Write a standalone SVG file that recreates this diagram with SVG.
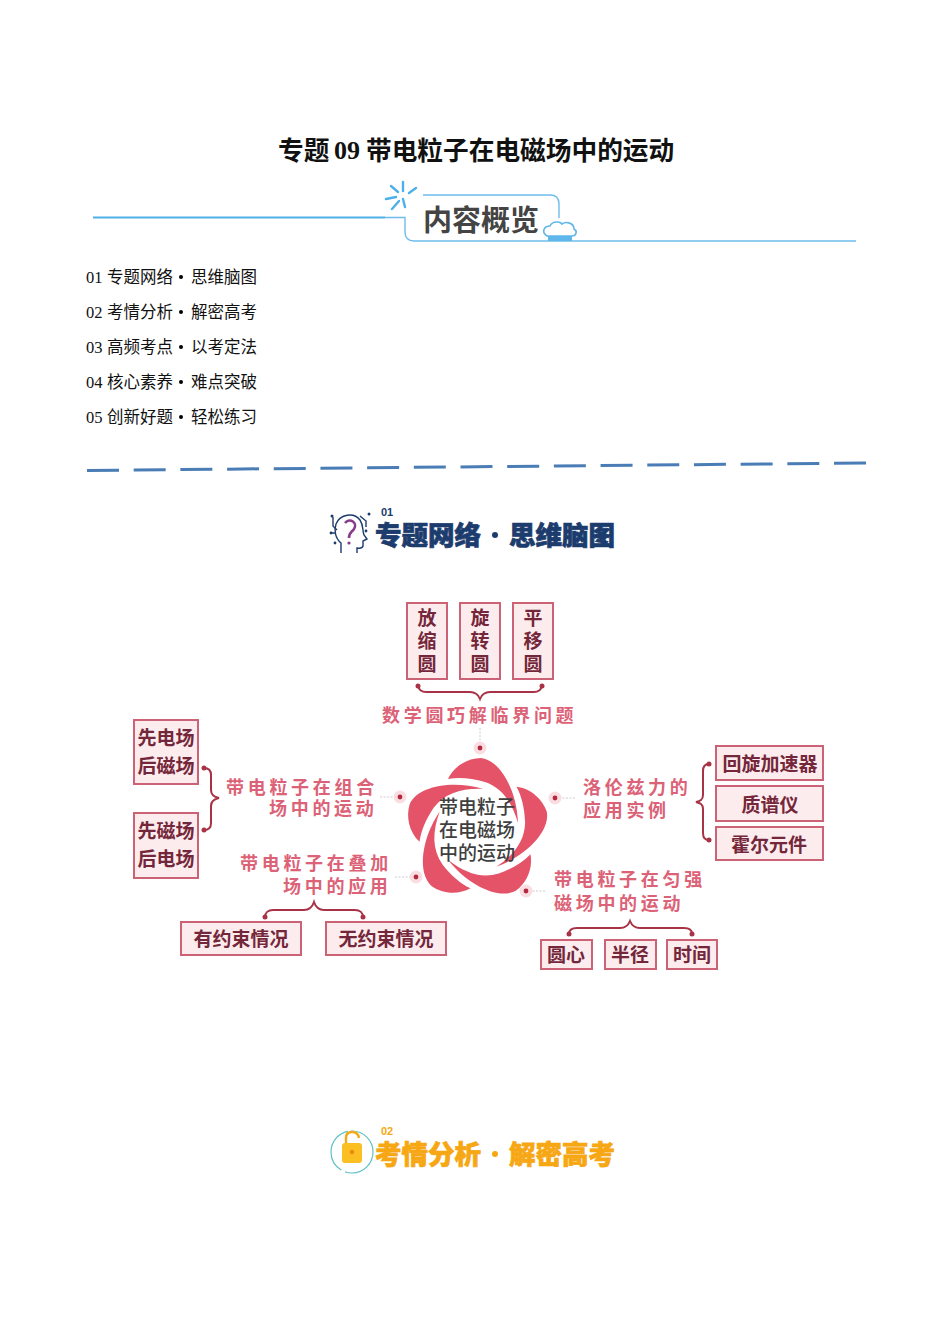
<svg xmlns="http://www.w3.org/2000/svg" width="950" height="1344" viewBox="0 0 950 1344">
<defs>
<style>
text{font-family:"Liberation Serif","Noto Sans CJK SC",serif;dominant-baseline:central}
.cjk{font-family:"Noto Sans CJK SC",sans-serif}
.toc{font-size:16.5px;fill:#111}
.title{font-size:25.7px;font-weight:700;fill:#111}
.box{fill:#fdecee;stroke:#cc6275;stroke-width:2}
.bt{font-family:"Noto Sans CJK SC",sans-serif;font-size:19px;font-weight:700;fill:#74273a;text-anchor:middle}
.lab{font-family:"Noto Sans CJK SC",sans-serif;font-size:18px;font-weight:700;fill:#dc6277;letter-spacing:3.7px}
.brace{fill:none;stroke:#a83347;stroke-width:2}
.bd{fill:#a83347}
.halo{fill:#f9dde1}
.dot{fill:#b32a40}
.dash{stroke:#ccc;stroke-width:1;stroke-dasharray:2 1.5;fill:none}
.sky{fill:none;stroke:#6dbdec;stroke-width:1.4}
.petal{fill:#e55368}
.head1{font-family:"Noto Sans CJK SC",sans-serif;font-size:26.5px;font-weight:900;fill:#1c3c6e;stroke:#1c3c6e;stroke-width:.7}
.head2{font-family:"Noto Sans CJK SC",sans-serif;font-size:26.5px;font-weight:900;fill:#f6a713;stroke:#f6a713;stroke-width:.7}
</style>
<path id="p" class="petal" d="M448,779C454,766 468,758 481,758C500,760 517,790 518,823C512,802 502,788 485,782C471,778 459,777 448,779Z"/>
</defs>
<rect width="950" height="1344" fill="#fff"/>

<g id="title">
<text class="title cjk" x="278" y="148">专题</text>
<text class="title" x="334" y="150" style="font-size:26px">09</text>
<text class="title cjk" x="366" y="148">带电粒子在电磁场中的运动</text>
</g>

<g id="banner">
<path d="M93,217.5H385" fill="none" stroke="#4db0e8" stroke-width="2.2"/>
<path class="sky" d="M385,217.5H405V232Q405,241 414,241H856"/>
<path class="sky" d="M423,195H550Q559,195 559,204V218"/>
<g stroke="#4db0e8" stroke-width="2.4" stroke-linecap="round">
<path d="M391,186L398,192M403,182V191M416,188L409,193M386,199L396,197M392,209L399,201M405,207L403,199"/>
</g>
<text class="cjk" x="423" y="218" font-size="29" font-weight="700" fill="#444">内容概览</text>
<path d="M547,236C541,232 544,226 550,226C552,221 560,221 562,224C566,221 574,223 574,229C578,231 576,236 572,236Z" fill="#fff" stroke="#5fb6ea" stroke-width="1.6"/>
<path d="M548,236H572V241H548Z" fill="#5fb6ea"/>
</g>

<g id="toc">
<text class="toc" x="86" y="277">01</text><text class="toc cjk" x="107" y="276">专题网络</text><circle cx="181" cy="277" r="2"/><text class="toc cjk" x="191" y="276">思维脑图</text>
<text class="toc" x="86" y="312">02</text><text class="toc cjk" x="107" y="311">考情分析</text><circle cx="181" cy="312" r="2"/><text class="toc cjk" x="191" y="311">解密高考</text>
<text class="toc" x="86" y="347">03</text><text class="toc cjk" x="107" y="346">高频考点</text><circle cx="181" cy="347" r="2"/><text class="toc cjk" x="191" y="346">以考定法</text>
<text class="toc" x="86" y="382">04</text><text class="toc cjk" x="107" y="381">核心素养</text><circle cx="181" cy="382" r="2"/><text class="toc cjk" x="191" y="381">难点突破</text>
<text class="toc" x="86" y="417">05</text><text class="toc cjk" x="107" y="416">创新好题</text><circle cx="181" cy="417" r="2"/><text class="toc cjk" x="191" y="416">轻松练习</text>
</g>

<path id="divider" d="M87,470.5L866,463" fill="none" stroke="#4a7db5" stroke-width="3" stroke-dasharray="32 14.69"/>

<g id="section1">
<g fill="none" stroke="#1c3c6e" stroke-width="1.4">
<path d="M341,553V543C335,538 334,530 336,524C340,514 354,512 360,520C364,526 362,530 364,535L367,539L363,541V546Q362,549 357,548V553"/>
<path d="M345,523C350,517 358,523 354,529C352,532 349,532 349,538" stroke="#8a3c8c" stroke-width="2.6"/>
<path d="M333,517V526L337,530M360,516L366,521V527M331,533H335"/>
</g>
<circle cx="349" cy="543" r="1.6" fill="#8a3c8c"/>
<g fill="#1c3c6e"><circle cx="332" cy="516" r="1.5"/><circle cx="369" cy="514" r="1.5"/><circle cx="366" cy="531" r="1.4"/><circle cx="331" cy="533" r="1.4"/><circle cx="335" cy="543" r="1.4"/></g>
<text x="381" y="512" font-size="11" font-weight="700" fill="#1c3c6e" style="font-family:'Liberation Sans',sans-serif">01</text>
<text class="head1" x="375" y="533">专题网络</text>
<circle cx="495" cy="535" r="3" fill="#1c3c6e"/>
<text class="head1" x="509" y="533">思维脑图</text>
</g>

<g id="connectors">
<path class="dash" d="M480,728V742M380,797H394M395,877H410M575,798H561M545,891H532"/>
<path class="brace" d="M418,686C419,690 421,692 426,692H470C475,692 478,694 480,699C482,694 485,692 490,692H534C539,692 541,690 542,686"/>
<path class="brace" d="M204,768C208,768 211,770 211,775V790C211,795 214,797 219,798C214,799 211,801 211,806V823C211,828 208,830 204,830"/>
<path class="brace" d="M709,764C705,764 703,766 703,771V795C703,800 700,801 696,802C700,803 703,804 703,809V833C703,838 705,840 709,840"/>
<path class="brace" d="M265,917C265,913 268,910 273,910H304C309,910 312,908 314,902C316,908 319,910 324,910H355C360,910 363,913 363,917"/>
<path class="brace" d="M569,934C569,930 572,928 577,928H620C625,928 628,926 630,921C632,926 635,928 640,928H684C689,928 692,930 692,934"/>
<g class="bd"><circle cx="418" cy="686" r="2.5"/><circle cx="542" cy="686" r="2.5"/><circle cx="204" cy="768" r="2.5"/><circle cx="204" cy="830" r="2.5"/><circle cx="709" cy="764" r="2.5"/><circle cx="709" cy="840" r="2.5"/><circle cx="265" cy="917" r="2.5"/><circle cx="363" cy="917" r="2.5"/><circle cx="569" cy="934" r="2.5"/><circle cx="692" cy="934" r="2.5"/></g>
</g>

<g id="hub">
<use href="#p"/>
<use href="#p" transform="rotate(72 477 830)"/>
<use href="#p" transform="rotate(144 477 830)"/>
<use href="#p" transform="rotate(216 477 830)"/>
<use href="#p" transform="rotate(288 477 830)"/>
<text class="cjk" font-size="19" fill="#3f3f3f" font-weight="500" text-anchor="middle"><tspan x="477" y="805">带电粒子</tspan><tspan x="477" y="828">在电磁场</tspan><tspan x="477" y="851">中的运动</tspan></text>
</g>

<g id="pins">
<circle class="halo" cx="480" cy="748" r="6.5"/><circle class="dot" cx="480" cy="748" r="2.4"/>
<circle class="halo" cx="400" cy="797" r="6.5"/><circle class="dot" cx="400" cy="797" r="2.4"/>
<circle class="halo" cx="416" cy="877" r="6.5"/><circle class="dot" cx="416" cy="877" r="2.4"/>
<circle class="halo" cx="555" cy="798" r="6.5"/><circle class="dot" cx="555" cy="798" r="2.4"/>
<circle class="halo" cx="526" cy="891" r="6.5"/><circle class="dot" cx="526" cy="891" r="2.4"/>
</g>

<g id="labels">
<text class="lab" x="382" y="714">数学圆巧解临界问题</text>
<text class="lab"><tspan x="226" y="786">带电粒子在组合</tspan><tspan x="269" y="807">场中的运动</tspan></text>
<text class="lab"><tspan x="240" y="862">带电粒子在叠加</tspan><tspan x="283" y="885">场中的应用</tspan></text>
<text class="lab"><tspan x="583" y="786">洛伦兹力的</tspan><tspan x="583" y="809">应用实例</tspan></text>
<text class="lab"><tspan x="554" y="878">带电粒子在匀强</tspan><tspan x="554" y="902">磁场中的运动</tspan></text>
</g>

<g id="n-fangsuo"><rect class="box" x="407" y="603" width="40" height="76"/><text class="bt"><tspan x="427" y="616">放</tspan><tspan x="427" y="639">缩</tspan><tspan x="427" y="662">圆</tspan></text></g>
<g id="n-xuanzhuan"><rect class="box" x="460" y="603" width="40" height="76"/><text class="bt"><tspan x="480" y="616">旋</tspan><tspan x="480" y="639">转</tspan><tspan x="480" y="662">圆</tspan></text></g>
<g id="n-pingyi"><rect class="box" x="513" y="603" width="40" height="76"/><text class="bt"><tspan x="533" y="616">平</tspan><tspan x="533" y="639">移</tspan><tspan x="533" y="662">圆</tspan></text></g>
<g id="n-xiandian"><rect class="box" x="134" y="720" width="64" height="64"/><text class="bt"><tspan x="166" y="736">先电场</tspan><tspan x="166" y="764">后磁场</tspan></text></g>
<g id="n-xianci"><rect class="box" x="134" y="813" width="64" height="65"/><text class="bt"><tspan x="166" y="829">先磁场</tspan><tspan x="166" y="857">后电场</tspan></text></g>
<g id="n-huixuan"><rect class="box" x="716" y="746" width="107" height="34"/><text class="bt" x="770" y="762">回旋加速器</text></g>
<g id="n-zhipu"><rect class="box" x="716" y="786" width="107" height="35"/><text class="bt" x="770" y="803">质谱仪</text></g>
<g id="n-huoer"><rect class="box" x="716" y="827" width="107" height="33"/><text class="bt" x="769" y="843">霍尔元件</text></g>
<g id="n-youyueshu"><rect class="box" x="181" y="922" width="120" height="33"/><text class="bt" x="241" y="937">有约束情况</text></g>
<g id="n-wuyueshu"><rect class="box" x="326" y="922" width="120" height="33"/><text class="bt" x="386" y="937">无约束情况</text></g>
<g id="n-yuanxin"><rect class="box" x="541" y="940" width="51" height="29"/><text class="bt" x="566" y="953">圆心</text></g>
<g id="n-banjing"><rect class="box" x="605" y="940" width="51" height="29"/><text class="bt" x="630" y="953">半径</text></g>
<g id="n-shijian"><rect class="box" x="667" y="940" width="50" height="29"/><text class="bt" x="692" y="953">时间</text></g>

<g id="section2">
<circle cx="352" cy="1152" r="21" fill="none" stroke="#5cc0c8" stroke-width="1.2" stroke-dasharray="40 4 50 3"/>
<path d="M346,1143V1138Q346,1132 352,1132Q358,1132 359,1138" fill="none" stroke="#f6a713" stroke-width="2.4"/>
<rect x="342" y="1143" width="20" height="20" rx="3" fill="#fbbf24"/>
<circle cx="352" cy="1152" r="2.2" fill="#e88a10"/>
<text x="381" y="1131" font-size="11" font-weight="700" fill="#f6a713" style="font-family:'Liberation Sans',sans-serif">02</text>
<text class="head2" x="375" y="1152">考情分析</text>
<circle cx="495" cy="1154" r="3" fill="#f6a713"/>
<text class="head2" x="509" y="1152">解密高考</text>
</g>
</svg>
